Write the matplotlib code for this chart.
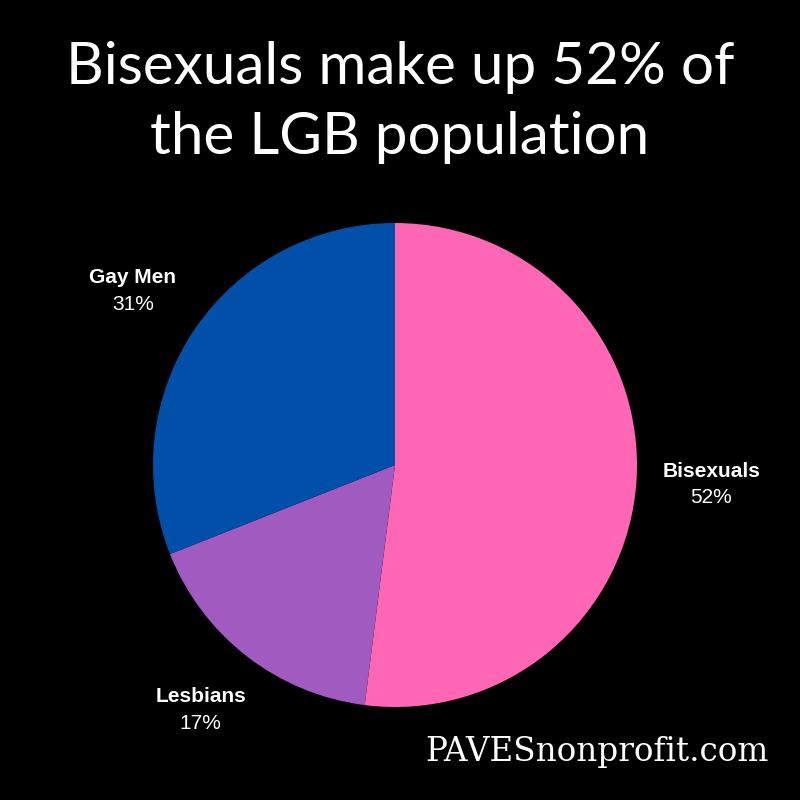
import numpy as np
import matplotlib.pyplot as plt

groups = ['Bisexuals', 'Lesbians', 'Gay Men']
shares = [52, 17, 31]
colors = ['#ff66b4', '#a05ac0', '#0050aa']

fig = plt.figure(figsize=(8, 8), dpi=100, facecolor='black')

# pie axes: centre ~ (395,465) px, radius ~242 px
ax = fig.add_axes([153/800, 93/800, 484/800, 484/800])
ax.set_facecolor('black')
wedges, _ = ax.pie(shares, colors=colors, startangle=90, counterclock=False,
                   radius=1.0, wedgeprops=dict(linewidth=0))
ax.set_xlim(-1, 1)
ax.set_ylim(-1, 1)
ax.set_aspect('equal')
ax.axis('off')

# labels outside each wedge, name in bold, share below
for w, name, val in zip(wedges, groups, shares):
    ang = np.deg2rad((w.theta1 + w.theta2) / 2)
    x, y = 1.31 * np.cos(ang), 1.28 * np.sin(ang)
    ax.text(x, y + 0.055, name, ha='center', va='center', color='white',
            fontsize=15, fontweight='bold', family='Liberation Sans', clip_on=False)
    ax.text(x, y - 0.055, f'{val}%', ha='center', va='center', color='white',
            fontsize=15, family='Liberation Sans', clip_on=False)

fig.text(0.5, 1 - 68/800, 'Bisexuals make up 52% of', ha='center', va='center',
         color='white', fontsize=42, family='Lato')
fig.text(0.5, 1 - 138/800, 'the LGB population', ha='center', va='center',
         color='white', fontsize=42, family='Lato')

fig.text(597/800, 1 - 752/800, 'PAVESnonprofit.com', ha='center', va='center',
         color='white', fontsize=23.5, family='DejaVu Serif')

fig.savefig('out.png', dpi=100, facecolor='black')
